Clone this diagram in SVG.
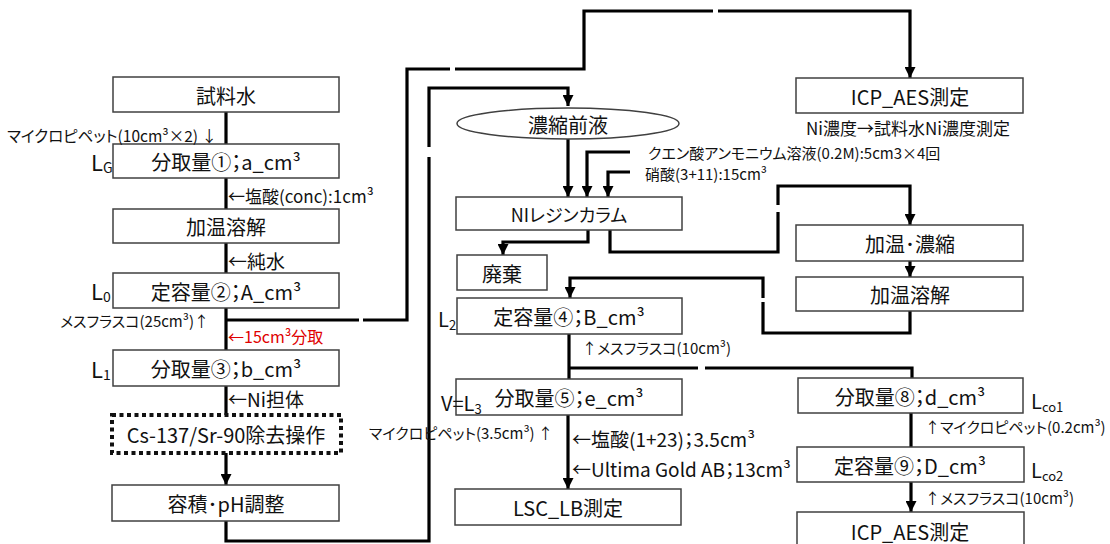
<svg xmlns="http://www.w3.org/2000/svg" width="1110" height="544" viewBox="0 0 1110 544">
<defs>
<style>
.box{fill:#fff;stroke:#404040;stroke-width:1.5}
.dot{fill:#fff;stroke:#111;stroke-width:4;stroke-dasharray:4 3.5}
.t{font-family:"Noto Sans CJK JP","Noto Sans",sans-serif;fill:#111;dominant-baseline:central;font-feature-settings:"palt"}
.bt{font-size:20px;text-anchor:middle}
.s{font-size:15px}
.m{font-size:17px}
.l{font-size:19px}
.c{fill:none;stroke:#000;stroke-width:3.2}
.a{marker-end:url(#ah)}
</style>
<marker id="ah" markerUnits="userSpaceOnUse" markerWidth="11" markerHeight="11" refX="10" refY="5" orient="auto" viewBox="0 0 10 10">
<path d="M0,0 L10,5 L0,10 z" fill="#000"/>
</marker>
</defs>
<rect width="1110" height="544" fill="#fff"/>

<g id="connectors">
<path class="c" d="M226,112 V144"/>
<path class="c" d="M226,178 V209"/>
<path class="c" d="M226,243 V273"/>
<path class="c" d="M226,308 V350"/>
<path class="c" d="M226,386 V415"/>
<path class="c a" d="M226,453 V485"/>
<path class="c" d="M226,521 V541 H429 V157"/>
<path class="c a" d="M429,147 V88 H568 V106"/>
<path class="c" d="M226,320 H359"/>
<path class="c" d="M363,320 H407 V69 H450"/>
<path class="c" d="M455,69 H584 V11 H713"/>
<path class="c a" d="M718,11 H910 V78"/>
<path class="c a" d="M568,139 V197"/>
<path class="c a" d="M630,152 H587 V197"/>
<path class="c a" d="M630,172 H608 V197"/>
<path class="c a" d="M588,230 V242 H503 V255"/>
<path class="c" d="M610,230 V252 H778 V212"/>
<path class="c a" d="M778,205 V186 H910 V225"/>
<path class="c a" d="M910,261 V277"/>
<path class="c" d="M910,311 V333 H763 V302"/>
<path class="c a" d="M763,298 V278 H570 V298"/>
<path class="c" d="M569,334 V379"/>
<path class="c" d="M569,368 H698"/>
<path class="c" d="M705,368 H912 V378"/>
<path class="c a" d="M568,415 V489"/>
<path class="c" d="M911,413 V447"/>
<path class="c a" d="M911,482 V512"/>
</g>

<g id="n1"><rect class="box" x="113" y="77" width="226" height="35"/><text class="t bt" x="226" y="95">試料水</text></g>
<g id="n2"><rect class="box" x="113" y="144" width="226" height="34"/><text class="t bt" x="226" y="161">分取量①；a_cm³</text></g>
<g id="n3"><rect class="box" x="113" y="209" width="226" height="34"/><text class="t bt" x="226" y="226">加温溶解</text></g>
<g id="n4"><rect class="box" x="113" y="273" width="226" height="35"/><text class="t bt" x="226" y="291">定容量②；A_cm³</text></g>
<g id="n5"><rect class="box" x="113" y="350" width="226" height="36"/><text class="t bt" x="226" y="368">分取量③；b_cm³</text></g>
<g id="n6"><rect class="dot" x="112" y="415" width="229" height="38"/><text class="t bt" x="226" y="434">Cs-137/Sr-90除去操作</text></g>
<g id="n7"><rect class="box" x="112" y="485" width="227" height="36"/><text class="t bt" x="226" y="503">容積･pH調整</text></g>
<g id="n8"><rect class="box" x="796" y="78" width="227" height="35"/><text class="t bt" x="910" y="96">ICP_AES測定</text></g>
<g id="n9"><ellipse class="box" cx="568" cy="123.5" rx="111" ry="15.5"/><text class="t bt" x="568" y="124">濃縮前液</text></g>
<g id="n10"><rect class="box" x="456" y="197" width="226" height="33"/><text class="t bt" x="569" y="214" style="font-size:18px">NIレジンカラム</text></g>
<g id="n11"><rect class="box" x="457" y="255" width="90" height="35"/><text class="t bt" x="502" y="273">廃棄</text></g>
<g id="n12"><rect class="box" x="796" y="225" width="227" height="36"/><text class="t bt" x="910" y="243">加温･濃縮</text></g>
<g id="n13"><rect class="box" x="796" y="277" width="227" height="34"/><text class="t bt" x="910" y="294">加温溶解</text></g>
<g id="n14"><rect class="box" x="457" y="298" width="225" height="36"/><text class="t bt" x="569" y="316">定容量④；B_cm³</text></g>
<g id="n15"><rect class="box" x="456" y="379" width="226" height="36"/><text class="t bt" x="569" y="397">分取量⑤；e_cm³</text></g>
<g id="n16"><rect class="box" x="455" y="489" width="226" height="36"/><text class="t bt" x="568" y="507">LSC_LB測定</text></g>
<g id="n17"><rect class="box" x="798" y="378" width="225" height="35"/><text class="t bt" x="910" y="396">分取量⑧；d_cm³</text></g>
<g id="n18"><rect class="box" x="797" y="447" width="227" height="35"/><text class="t bt" x="910" y="465">定容量⑨；D_cm³</text></g>
<g id="n19"><rect class="box" x="797" y="512" width="227" height="40"/><text class="t bt" x="910" y="531">ICP_AES測定</text></g>

<g id="labels">
<text class="t s" x="217" y="135" text-anchor="end" style="font-size:15.5px">マイクロピペット(10cm³×2) ↓</text>
<text class="t" x="91" y="161" style="font-size:22px">L<tspan dy="6" style="font-size:14px">G</tspan></text>
<text class="t m" x="228" y="195">←塩酸(conc):1cm³</text>
<text class="t l" x="228" y="260">←純水</text>
<text class="t" x="91" y="290" style="font-size:22px">L<tspan dy="6" style="font-size:14px">0</tspan></text>
<text class="t s" x="209" y="320" text-anchor="end">メスフラスコ(25cm³)↑</text>
<text class="t" x="228" y="336" style="font-size:16px;fill:#e00000">←15cm³分取</text>
<text class="t" x="91" y="368" style="font-size:22px">L<tspan dy="6" style="font-size:14px">1</tspan></text>
<text class="t l" x="228" y="398">←Ni担体</text>
<text class="t" x="908" y="127" text-anchor="middle" style="font-size:17px">Ni濃度→試料水Ni濃度測定</text>
<text class="t" x="648" y="152" style="font-size:15px">クエン酸アンモニウム溶液(0.2M):5cm3×4回</text>
<text class="t" x="645" y="173" style="font-size:15px">硝酸(3+11):15cm³</text>
<text class="t" x="438" y="318" style="font-size:20px">L<tspan dy="6" style="font-size:13px">2</tspan></text>
<text class="t s" x="582" y="347">↑メスフラスコ(10cm³)</text>
<text class="t" x="441" y="402" style="font-size:20px">V=L<tspan dy="6" style="font-size:13px">3</tspan></text>
<text class="t s" x="553" y="432" text-anchor="end">マイクロピペット(3.5cm³) ↑</text>
<text class="t l" x="572" y="438">←塩酸(1+23)；3.5cm³</text>
<text class="t l" x="572" y="468">←Ultima Gold AB；13cm³</text>
<text class="t" x="1031" y="400" style="font-size:20px">L<tspan dy="6" style="font-size:13px">co1</tspan></text>
<text class="t s" x="925" y="426">↑マイクロピペット(0.2cm³)</text>
<text class="t" x="1031" y="469" style="font-size:20px">L<tspan dy="6" style="font-size:13px">co2</tspan></text>
<text class="t s" x="925" y="497">↑メスフラスコ(10cm³)</text>
</g>
</svg>
